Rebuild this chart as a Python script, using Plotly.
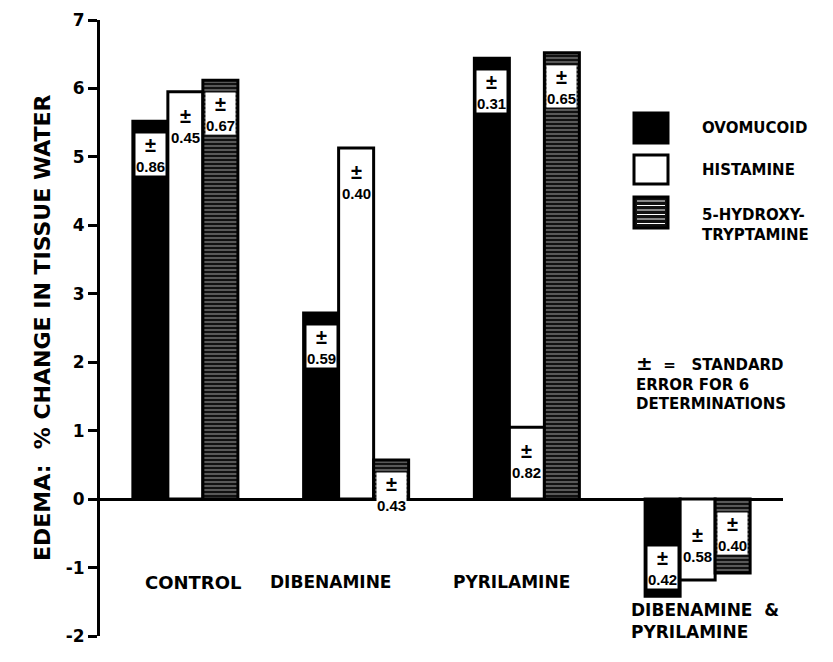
import plotly.graph_objects as go

categories = ["CONTROL", "DIBENAMINE", "PYRILAMINE", "DIBENAMINE  &<br>PYRILAMINE"]
series_names = ["OVOMUCOID", "HISTAMINE", "5-HYDROXY-<br>TRYPTAMINE"]
ovomucoid = [5.52, 2.72, 6.44, -1.42]
histamine = [5.95, 5.13, 1.05, -1.18]
hydroxytryptamine = [6.12, 0.57, 6.52, -1.08]
se_ovomucoid = ["0.86", "0.59", "0.31", "0.42"]
se_histamine = ["0.45", "0.40", "0.82", "0.58"]
se_hydroxytryptamine = ["0.67", "0.43", "0.65", "0.40"]
y_ticks = [-2, -1, 0, 1, 2, 3, 4, 5, 6, 7]

FONT = "DejaVu Sans"
x_idx = list(range(len(categories)))

fig = go.Figure()
fig.add_trace(go.Bar(x=x_idx, y=ovomucoid, name=series_names[0],
                     marker=dict(color="black", line=dict(color="black", width=3))))
fig.add_trace(go.Bar(x=x_idx, y=histamine, name=series_names[1],
                     marker=dict(color="white", line=dict(color="black", width=3))))
fig.add_trace(go.Bar(x=x_idx, y=hydroxytryptamine, name=series_names[2],
                     marker=dict(color="black", line=dict(color="black", width=3),
                                 pattern=dict(shape="-", fgcolor="white", bgcolor="#111111",
                                              size=4, solidity=0.3))))

bw = 0.205
offsets = [-bw, 0, bw]
neg_shift = [7, 14, 18]   # label lift above the end of negative bars (px)
for si, (vals, ses, off) in enumerate(zip([ovomucoid, histamine, hydroxytryptamine],
                                          [se_ovomucoid, se_histamine, se_hydroxytryptamine], offsets)):
    for i, (v, s) in enumerate(zip(vals, ses)):
        if v >= 0:
            ya, ys = "top", -12
        else:
            ya, ys = "bottom", neg_shift[si]
        fig.add_annotation(x=i + off, y=v, yshift=ys, yanchor=ya, xanchor="center",
                           text="<span style='font-size:20px'><b>±</b></span><br><b>" + s + "</b>",
                           showarrow=False, bgcolor="white", borderpad=0,
                           font=dict(family="Liberation Sans Narrow, Liberation Sans", size=15, color="black"))

# category labels
cat_shift = [8, -26, -15, 7]
cat_y = [-1.03, -1.03, -1.03, -1.45]
for i, c in enumerate(categories):
    fig.add_annotation(x=i, y=cat_y[i], yanchor="top", xshift=cat_shift[i], text="<b>" + c + "</b>",
                       showarrow=False, align="left",
                       font=dict(family=FONT, size=18 if i == 0 else 17, color="black"))

# y title
fig.add_annotation(xref="paper", yref="paper", x=(42 - 100) / 683, y=0.50, xanchor="center",
                   textangle=-90,
                   text="<b>EDEMA:  % CHANGE IN TISSUE WATER</b>", showarrow=False,
                   font=dict(family=FONT, size=22, color="black"))

# legend (plot area in page pixels spans x 100..783, y 20..636)
def px(xp):
    return (xp - 100) / 683
def py(yp):
    return 1 - (yp - 20) / 616

legend_rows = [(113, 143), (155, 184), (197, 228)]
fills = ["black", "white", "#111111"]
for (y0, y1), f in zip(legend_rows, fills):
    fig.add_shape(type="rect", xref="paper", yref="paper", x0=px(634), x1=px(668),
                  y0=py(y1), y1=py(y0), fillcolor=f, line=dict(color="black", width=3))
for k in range(6):
    yy = 201 + k * 4.5
    fig.add_shape(type="line", xref="paper", yref="paper", x0=px(637), x1=px(665),
                  y0=py(yy), y1=py(yy), line=dict(color="white", width=1))

legend_text_y = [128, 170, 225]
for name, yv in zip(series_names, legend_text_y):
    fig.add_annotation(xref="paper", yref="paper", x=px(700), y=py(yv), xanchor="left",
                       yanchor="middle", align="left", text="<b>" + name + "</b>",
                       showarrow=False, font=dict(family=FONT, size=15, color="black"))

fig.add_annotation(xref="paper", yref="paper", x=px(634), y=py(382), xanchor="left",
                   yanchor="middle", align="left",
                   text="<b><span style='font-size:20px'>±</span>  =   STANDARD</b><br><b>ERROR FOR 6</b><br><b>DETERMINATIONS</b>",
                   showarrow=False, font=dict(family=FONT, size=15, color="black"))

# page body has an 8px margin: compensate so the plot area sits at page x 100..783, y 20..636
fig.update_layout(
    width=833, height=662,
    margin=dict(l=92, r=58, t=12, b=34),
    paper_bgcolor="white", plot_bgcolor="white",
    barmode="group", bargap=0.385, bargroupgap=0,
    showlegend=False,
    xaxis=dict(range=[-0.5, 3.5], showticklabels=False, showgrid=False, showline=False,
               zeroline=False, ticks=""),
    yaxis=dict(range=[-2, 7], tickvals=y_ticks, ticktext=["<b>%d</b>" % t for t in y_ticks],
               showgrid=False, showline=True, linecolor="black", linewidth=3,
               ticks="outside", ticklen=9, tickwidth=3, tickcolor="black",
               zeroline=True, zerolinecolor="black", zerolinewidth=3, automargin=False,
               tickfont=dict(family=FONT, size=17, color="black")),
)

fig.write_html("out.html")
